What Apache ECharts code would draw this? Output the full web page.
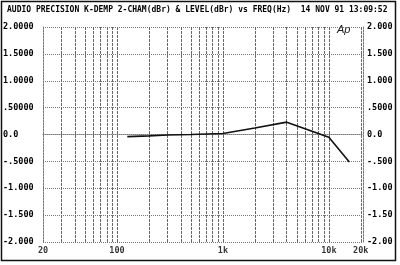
<!DOCTYPE html>
<html><head><meta charset="utf-8">
<script src="https://cdn.jsdelivr.net/npm/echarts@6/dist/echarts.min.js"></script>
<style>html,body{margin:0;padding:0;background:#fff;}#c{width:400px;height:265px;}</style>
</head><body><div id="c"></div>
<script>
var freqs = [125, 200, 300, 500, 1000, 2000, 4000, 10000, 15600];
var levels = [-0.04, -0.025, -0.01, 0.0, 0.02, 0.12, 0.23, -0.05, -0.51];
var gridFreqs = [30,40,50,60,70,80,90,100,200,300,400,500,600,700,800,900,1000,2000,3000,4000,5000,6000,7000,8000,9000,10000,20000];
var xTickFreqs = [20, 100, 1000, 10000, 20000];
var xTickLabels = ['20', '100', '1k', '10k', '20k'];
var yTicks = [2, 1.5, 1, 0.5, 0, -0.5, -1, -1.5, -2];
var yLeftLabels = ['2.0000', '1.5000', '1.0000', '.50000', '0.0', '-.5000', '-1.000', '-1.500', '-2.000'];
var yRightLabels = ['2.000', '1.500', '1.000', '.5000', '0.0', '-.500', '-1.00', '-1.50', '-2.00'];
var title = 'AUDIO PRECISION K-DEMP 2-CHAM(dBr) & LEVEL(dBr) vs FREQ(Hz)  14 NOV 91 13:09:52';

var FONT = '"DejaVu Sans Mono", "Liberation Mono", monospace';
function lab(arr) {
  return function (v) {
    for (var i = 0; i < yTicks.length; i++) if (Math.abs(yTicks[i] - v) < 1e-6) return arr[i];
    return '';
  };
}
var chart = echarts.init(document.getElementById('c'), null, {renderer: 'canvas'});
var yBase = {
  type: 'value', min: -2, max: 2, interval: 0.5,
  axisTick: {show: false},
  axisLine: {show: true, lineStyle: {color: '#777', type: [2, 1], width: 1}}
};
chart.setOption({
  animation: false,
  backgroundColor: '#fff',
  grid: {left: 42, right: 37, top: 27, bottom: 23},
  graphic: [
    {type: 'rect', shape: {x: 1.5, y: 1.5, width: 394, height: 259}, style: {fill: 'none', stroke: '#111', lineWidth: 1.5}, z: 100},
    {type: 'text', left: 7, top: 6, style: {text: title, font: 'bold 8px ' + FONT, fill: '#000'}},
    {type: 'text', left: 337, top: 24, style: {text: 'Ap', font: 'italic 11px "Liberation Sans", sans-serif', fill: '#222'}}
  ],
  xAxis: {
    type: 'log', logBase: 10, min: 20, max: 21000,
    axisLabel: {show: false}, axisTick: {show: false},
    axisLine: {show: true, lineStyle: {color: '#777', type: [1, 1]}},
    splitLine: {show: false}
  },
  yAxis: [
    Object.assign({}, yBase, {
      position: 'left',
      axisLabel: {formatter: lab(yLeftLabels), align: 'left', margin: 40, color: '#000', fontFamily: FONT, fontWeight: 'bold', fontSize: 8.5},
      splitLine: {show: true, lineStyle: {color: '#777', type: [1, 1], width: 1}}
    }),
    Object.assign({}, yBase, {
      position: 'right',
      axisLabel: {formatter: lab(yRightLabels), align: 'left', margin: 4, color: '#000', fontFamily: FONT, fontWeight: 'bold', fontSize: 8.5},
      splitLine: {show: false}
    })
  ],
  series: [
    {
      type: 'line', data: freqs.map(function (f, i) { return [f, levels[i]]; }),
      showSymbol: false, symbol: 'none',
      lineStyle: {color: '#111', width: 1.6},
      z: 10,
      markLine: {
        silent: true, symbol: 'none', animation: false,
        label: {show: false},
        lineStyle: {color: '#666', type: [3, 1], width: 1},
        data: gridFreqs.map(function (f) { return {xAxis: f}; })
      }
    },
    {
      type: 'scatter', symbolSize: 0, clip: false, silent: true,
      data: xTickFreqs.map(function (f, i) { return {value: [f, -2], name: xTickLabels[i]}; }),
      label: {show: true, position: 'bottom', distance: 4, formatter: '{b}', color: '#000', fontFamily: FONT, fontWeight: 'bold', fontSize: 8.5}
    }
  ]
});
</script></body></html>
